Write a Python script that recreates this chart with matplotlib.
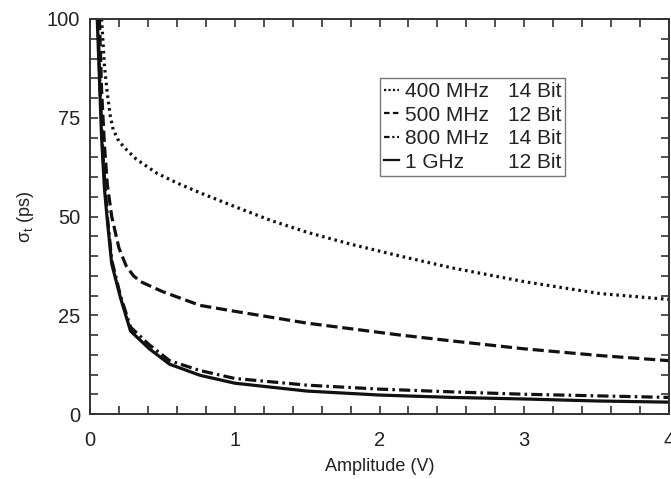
import matplotlib
matplotlib.use("Agg")
import matplotlib.pyplot as plt
from matplotlib.lines import Line2D
from matplotlib.ticker import MultipleLocator

plt.rcParams['font.family'] = ['Liberation Sans', 'DejaVu Sans']
plt.rcParams['mathtext.fontset'] = 'custom'
plt.rcParams['mathtext.rm'] = 'Liberation Sans'
plt.rcParams['mathtext.it'] = 'Liberation Sans'

# Series data (Amplitude in V, sigma_t in ps)
amp_400 = [0.08, 0.10, 0.12, 0.14, 0.16, 0.20, 0.25, 0.32, 0.40, 0.46, 0.60, 0.76, 1.00, 1.25, 1.50, 1.80, 2.14, 2.50, 3.00, 3.52, 4.00]
sig_400 = [100, 88, 81, 75.5, 72, 69, 67, 64.5, 62.5, 61, 58.5, 56, 52.5, 49, 46, 43, 40, 37, 33.5, 30.5, 29]

amp_500 = [0.065, 0.08, 0.10, 0.12, 0.15, 0.20, 0.25, 0.30, 0.35, 0.50, 0.76, 1.00, 1.50, 2.14, 2.50, 3.00, 3.52, 4.00]
sig_500 = [100, 82, 68, 58, 50, 42, 37.5, 35, 33.5, 31, 27.5, 26, 23, 20, 18.5, 16.5, 14.8, 13.5]

amp_800 = [0.055, 0.07, 0.09, 0.12, 0.15, 0.21, 0.28, 0.41, 0.55, 0.76, 1.00, 1.50, 2.00, 2.50, 3.00, 3.50, 4.00]
sig_800 = [100, 82, 65, 50, 39, 30, 22, 17.5, 13.5, 11, 9, 7.3, 6.3, 5.6, 5.0, 4.6, 4.2]

amp_1g = [0.05, 0.065, 0.08, 0.10, 0.117, 0.15, 0.21, 0.28, 0.41, 0.55, 0.76, 1.00, 1.50, 2.00, 2.50, 3.00, 3.50, 4.00]
sig_1g = [100, 85, 70, 57, 50, 38, 29.5, 21, 16.5, 12.6, 9.8, 7.8, 5.8, 4.8, 4.2, 3.8, 3.3, 3.0]

freq_labels = ['400 MHz', '500 MHz', '800 MHz', '1 GHz']
bit_labels = ['14 Bit', '12 Bit', '14 Bit', '12 Bit']

fig = plt.figure(figsize=(6.71, 4.79), dpi=100)
ax = fig.add_axes([90/671, 65/479, 579/671, 395/479])

lc = '#111111'
lw = 2.3
styles = [(0, (0.8, 1.2)), (0, (3.5, 1.5)), (0, (3.5, 1.3, 0.8, 1.3)), '-']
ax.plot(amp_400, sig_400, color=lc, lw=lw, linestyle=styles[0])
ax.plot(amp_500, sig_500, color=lc, lw=lw, linestyle=styles[1])
ax.plot(amp_800, sig_800, color=lc, lw=lw, linestyle=styles[2])
ax.plot(amp_1g, sig_1g, color=lc, lw=lw, linestyle=styles[3])

ax.set_xlim(0, 4)
ax.set_ylim(0, 100)
ax.xaxis.set_major_locator(MultipleLocator(1))
ax.xaxis.set_minor_locator(MultipleLocator(0.2))
ax.yaxis.set_major_locator(MultipleLocator(25))
ax.yaxis.set_minor_locator(MultipleLocator(5))
ax.tick_params(which='both', direction='in', top=True, right=True, length=5.5, width=1.2, color='#333333')
ax.tick_params(which='major', labelsize=14.5, labelcolor='#222222')
ax.tick_params(axis='x', which='major', pad=12)
ax.tick_params(axis='y', which='major', pad=7)
for s in ax.spines.values():
    s.set_linewidth(1.4)
    s.set_color('#333333')

ax.set_xlabel('Amplitude (V)', fontsize=13, color='#222222', labelpad=6)
ax.set_ylabel(r'$\mathrm{\sigma_t}$ (ps)', fontsize=13, color='#222222', labelpad=8)

# legend proxies (thin, short handles as in the reference)
leg_styles = [(0, (1, 1)), (0, (2.5, 1.5)), (0, (2.5, 1.2, 1, 1.2, 1, 1.2)), '-']
proxies = [Line2D([], [], color=lc, lw=1.6, linestyle=s) for s in leg_styles]
blank = Line2D([], [], linestyle='none')
leg = ax.legend(proxies + [blank] * 4,
                freq_labels + bit_labels, ncol=2, loc='upper left',
                bbox_to_anchor=(0.501, 0.851), borderaxespad=0,
                fontsize=15, handlelength=0.7, handletextpad=0.3,
                columnspacing=-0.1, labelspacing=0.22, borderpad=0.2,
                frameon=True, fancybox=False, edgecolor='#555555')
leg.get_frame().set_linewidth(1.0)
for t in leg.get_texts():
    t.set_color('#222222')

fig.savefig('out.png', dpi=100)
